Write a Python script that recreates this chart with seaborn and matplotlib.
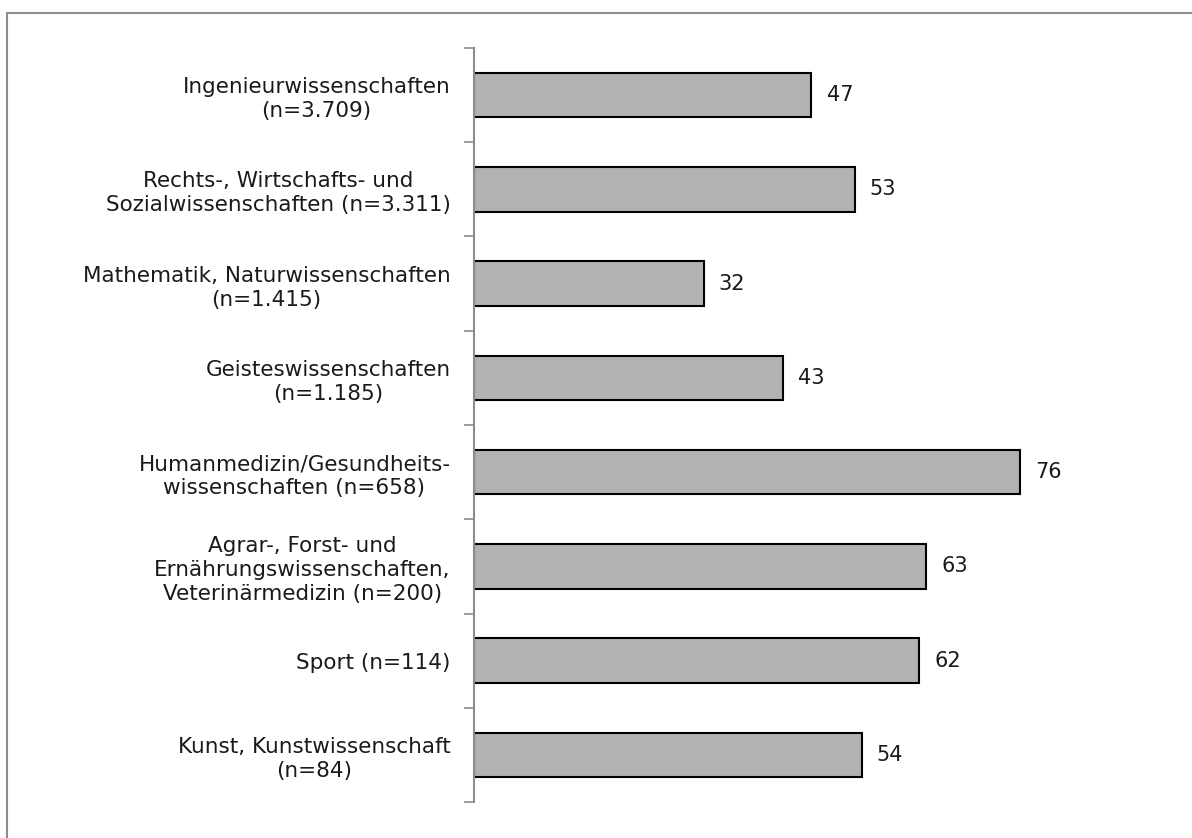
import matplotlib
matplotlib.use("Agg")
import matplotlib.pyplot as plt
import pandas as pd
import seaborn as sns
from matplotlib.lines import Line2D

sns.set_style("white")
plt.rcParams["font.family"] = ["DejaVu Sans"]

categories = [
    "Ingenieurwissenschaften\n(n=3.709)",
    "Rechts-, Wirtschafts- und\nSozialwissenschaften (n=3.311)",
    "Mathematik, Naturwissenschaften\n(n=1.415)",
    "Geisteswissenschaften\n(n=1.185)",
    "Humanmedizin/Gesundheits-\nwissenschaften (n=658)",
    "Agrar-, Forst- und\nErnährungswissenschaften,\nVeterinärmedizin (n=200)",
    "Sport (n=114)",
    "Kunst, Kunstwissenschaft\n(n=84)",
]
values = [47, 53, 32, 43, 76, 63, 62, 54]

df = pd.DataFrame({"category": categories, "value": values})

W, H = 1192, 838
fig = plt.figure(figsize=(W / 100, H / 100), dpi=100)
ax = fig.add_axes([474 / W, 1 - 802 / H, (W - 474) / W, (802 - 48) / H])

sns.barplot(data=df, y="category", x="value", orient="h", color="#b2b2b2",
            edgecolor="black", linewidth=1.5, width=0.47, saturation=1, ax=ax)

ax.set_xlim(0, 100)
ax.set_ylim(len(categories) - 0.5, -0.5)
ax.set_xlabel("")
ax.set_ylabel("")
ax.set_xticks([])

for i, v in enumerate(values):
    ax.text(v + 2.1, i, str(v), va="center", ha="left", fontsize=15, color="#1a1a1a")

# category boundary ticks on the left axis
ax.set_yticks([i - 0.5 for i in range(len(categories) + 1)], minor=False)
ax.set_yticklabels([])
ax.set_yticks(range(len(categories)), minor=True)
ax.set_yticklabels(categories, minor=True, multialignment="center",
                   fontsize=15.5, color="#1a1a1a", linespacing=1.25)
ax.tick_params(axis="y", which="major", length=7, width=1.2, color="#8c8c8c", left=True)
ax.tick_params(axis="y", which="minor", length=0, pad=17)

for side in ["top", "right", "bottom"]:
    ax.spines[side].set_visible(False)
ax.spines["left"].set_color("#8c8c8c")
ax.spines["left"].set_linewidth(1.5)

# outer frame (top and left edges visible)
fig.add_artist(Line2D([7 / W, 1], [1 - 13 / H, 1 - 13 / H], color="#8c8c8c", lw=1.5))
fig.add_artist(Line2D([7 / W, 7 / W], [0, 1 - 13 / H], color="#8c8c8c", lw=1.5))

fig.savefig("out.png", dpi=100)
